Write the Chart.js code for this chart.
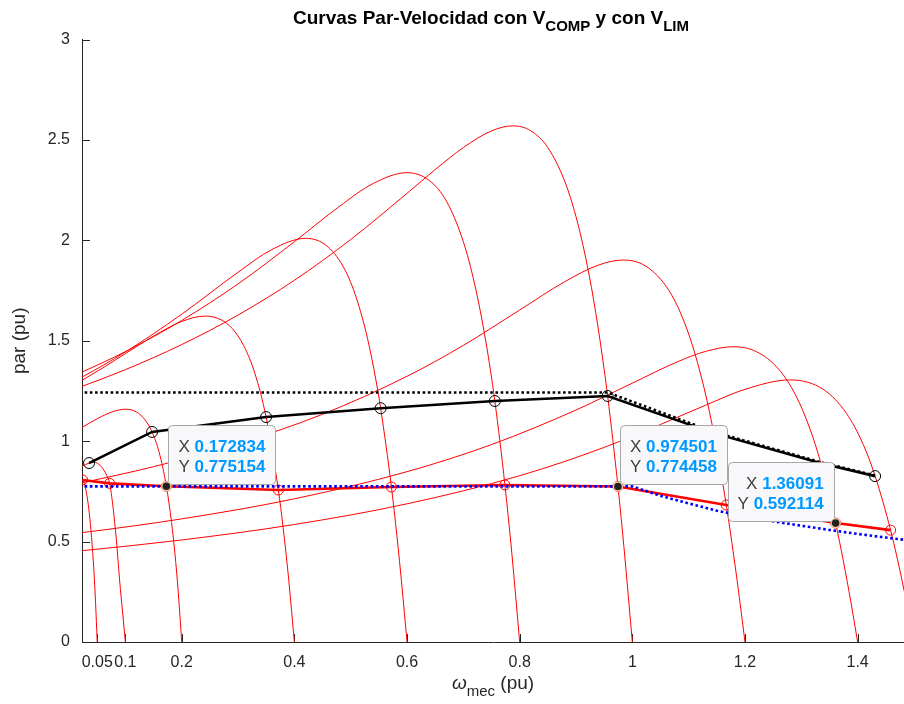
<!DOCTYPE html>
<html lang="es">
<head>
<meta charset="utf-8">
<title>Curvas Par-Velocidad</title>
<script src="https://cdn.jsdelivr.net/npm/chart.js@4.4.1/dist/chart.umd.min.js"></script>
<style>
  html, body { margin: 0; padding: 0; background: #fff; overflow: hidden; }
  canvas { display: block; }
</style>
</head>
<body>
<canvas id="grafico" width="904" height="704"></canvas>
<script>
// === EJES ===
const ticksX = [0.05, 0.1, 0.2, 0.4, 0.6, 0.8, 1, 1.2, 1.4];
const ticksY = [0, 0.5, 1, 1.5, 2, 2.5, 3];
const limX = [0.023, 1.4823];
const limY = [0, 3];

// === CURVAS PAR-VELOCIDAD [w_mec, par] ===
// V_COMP hasta 1 pu
const curva005 = [[0, 0.77], [0.012, 0.8], [0.02, 0.81], [0.024, 0.807], [0.028, 0.78], [0.032, 0.725], [0.036, 0.64], [0.04, 0.52], [0.044, 0.36], [0.047, 0.2], [0.05, 0]];
const curva01 = [[0, 0.845], [0.023, 0.875], [0.0355, 0.891], [0.045, 0.895], [0.055, 0.88], [0.062, 0.855], [0.067, 0.828], [0.072, 0.79], [0.078, 0.674], [0.084, 0.508], [0.09, 0.3], [0.095, 0.15], [0.1, 0]];
const curva02 = [[0, 1.029], [0.023, 1.068], [0.05, 1.112], [0.08, 1.149], [0.1, 1.159], [0.12, 1.145], [0.135, 1.106], [0.1474, 1.046], [0.16, 0.944], [0.172834, 0.775154], [0.182, 0.595], [0.188, 0.44], [0.194, 0.245], [0.2, 0]];
const curva04 = [[0, 1.265], [0.023, 1.303], [0.06, 1.365], [0.1, 1.436], [0.15, 1.523], [0.2, 1.596], [0.242, 1.623], [0.27, 1.604], [0.29, 1.56], [0.31, 1.476], [0.33, 1.337], [0.3498, 1.12], [0.3716, 0.757], [0.38, 0.571], [0.39, 0.31], [0.4, 0]];
const curva06 = [[0, 1.286], [0.023, 1.319], [0.1, 1.444], [0.2, 1.632], [0.3, 1.841], [0.36, 1.954], [0.42, 2.01], [0.46, 1.967], [0.49, 1.852], [0.51, 1.714], [0.53, 1.51], [0.545, 1.301], [0.5532, 1.164], [0.5723, 0.772], [0.582, 0.53], [0.591, 0.278], [0.6, 0]];
const curva08 = [[0, 1.316], [0.023, 1.344], [0.1, 1.446], [0.2, 1.601], [0.3, 1.783], [0.4, 1.993], [0.48, 2.169], [0.54, 2.283], [0.6, 2.337], [0.64, 2.297], [0.67, 2.195], [0.7, 1.993], [0.72, 1.783], [0.74, 1.495], [0.7559, 1.2], [0.7738, 0.782], [0.786, 0.444], [0.8, 0]];
const curva10 = [[0, 1.25], [0.023, 1.273], [0.1, 1.356], [0.2, 1.481], [0.3, 1.628], [0.4, 1.801], [0.5, 2.004], [0.6, 2.234], [0.65, 2.352], [0.7, 2.462], [0.75, 2.545], [0.788, 2.57], [0.82, 2.545], [0.85, 2.462], [0.88, 2.294], [0.9, 2.118], [0.92, 1.875], [0.935, 1.641], [0.95, 1.357], [0.9562, 1.225], [0.974501, 0.774458], [0.985, 0.476], [1, 0]];
// V_LIM por encima de 1 pu
const curva12 = [[0, 0.78], [0.023, 0.793], [0.15, 0.873], [0.3, 0.988], [0.45, 1.134], [0.6, 1.323], [0.7, 1.477], [0.8, 1.653], [0.88, 1.794], [0.94, 1.877], [0.984, 1.902], [1.03, 1.86], [1.07, 1.727], [1.1, 1.534], [1.125, 1.292], [1.1446, 1.04], [1.1668, 0.682], [1.18, 0.43], [1.19, 0.222], [1.2, 0]];
const curva14 = [[0, 0.537], [0.023, 0.5445], [0.2, 0.613], [0.4, 0.713], [0.6, 0.848], [0.75, 0.983], [0.9, 1.155], [1, 1.289], [1.08, 1.395], [1.13, 1.447], [1.179, 1.47], [1.22, 1.446], [1.26, 1.358], [1.29, 1.229], [1.315, 1.064], [1.3348, 0.89], [1.36091, 0.592114], [1.375, 0.398], [1.388, 0.199], [1.4, 0]];
const curva15 = [[0, 0.4485], [0.023, 0.4546], [0.2, 0.508], [0.4, 0.585], [0.6, 0.688], [0.8, 0.828], [0.95, 0.969], [1.05, 1.083], [1.13, 1.179], [1.2, 1.258], [1.28, 1.305], [1.34, 1.256], [1.38, 1.139], [1.41, 0.983], [1.431, 0.826], [1.4585, 0.557], [1.475, 0.357], [1.49, 0.15], [1.5, 0]];

// puntos marcados sobre las curvas
const puntosNegro = [[0.0355, 0.891], [0.1474, 1.046], [0.3498, 1.12], [0.5532, 1.164], [0.7559, 1.2], [0.9562, 1.225], [1.1446, 1.04], [1.3348, 0.89], [1.431, 0.826]];
const limiteNegro = [[0, 1.2425], [0.9562, 1.2425], [1.1446, 1.046], [1.3348, 0.895], [1.431, 0.829]];
const puntosRojo = [[0.024, 0.807], [0.072, 0.79], [0.172834, 0.775154], [0.3716, 0.757], [0.5723, 0.772], [0.7738, 0.782], [0.974501, 0.774458], [1.1668, 0.682], [1.36091, 0.592114], [1.4585, 0.557]];

// par de carga
const cargaW = [0, 1, 1.05, 1.1, 1.15, 1.2, 1.25, 1.3, 1.35, 1.4, 1.45, 1.5];
const cargaPar = [0.775, 0.775, 0.728, 0.69, 0.654, 0.625, 0.601, 0.579, 0.558, 0.538, 0.52, 0.503];

// data tips: [x, y, lado]
const tips = [[0.172834, 0.775154, 1], [0.974501, 0.774458, 1], [1.36091, 0.592114, -1]];

const fuente = '"Liberation Sans", Arial, Helvetica, sans-serif';
const grisTexto = '#262626';

const aXY = (lista) => lista.map(([x, y]) => ({ x, y }));

const curvas = [curva005, curva01, curva02, curva04, curva06, curva08, curva10, curva12, curva14, curva15];

// los dos puntos negros que quedan bajo los data tips no llevan marcador
const radioNegro = puntosNegro.map((p, i) => (i === 6 || i === 7) ? 0 : 5.5);

const datasets = [
  {
    data: cargaW.map((w, i) => ({ x: w, y: cargaPar[i] })),
    borderColor: '#0000ff', borderWidth: 2.6, borderDash: [2.6, 2.6], pointRadius: 0, order: 1
  },
  {
    data: aXY(puntosRojo),
    borderColor: '#ff0000', borderWidth: 2.6, pointRadius: 5, pointBorderWidth: 1,
    pointBorderColor: '#ff0000', pointBackgroundColor: 'rgba(0,0,0,0)', order: 2
  },
  {
    data: aXY(limiteNegro),
    borderColor: '#000000', borderWidth: 2.6, borderDash: [2.6, 2.6], pointRadius: 0, order: 3
  },
  {
    data: aXY(puntosNegro),
    borderColor: '#000000', borderWidth: 2.6, pointRadius: radioNegro, pointBorderWidth: 1,
    pointBorderColor: '#000000', pointBackgroundColor: 'rgba(0,0,0,0)', order: 4
  },
  ...curvas.map(c => ({
    data: aXY(c), borderColor: '#ff0000', borderWidth: 1, pointRadius: 0,
    cubicInterpolationMode: 'monotone', order: 10
  }))
];

// texto con subindices
function textoCompuesto(ctx, partes, cx, base, tam, negrita, color) {
  const f = (p) => `${p.cursiva ? 'italic ' : ''}${negrita ? 'bold ' : ''}${p.sub ? Math.round(tam * 0.78) : tam}px ${fuente}`;
  let ancho = 0;
  partes.forEach(p => { ctx.font = f(p); ancho += ctx.measureText(p.t).width; });
  let xx = cx - ancho / 2;
  ctx.fillStyle = color;
  ctx.textAlign = 'left';
  ctx.textBaseline = 'alphabetic';
  partes.forEach(p => {
    ctx.font = f(p);
    ctx.fillText(p.t, xx, base + (p.sub ? tam * 0.38 : 0));
    xx += ctx.measureText(p.t).width;
  });
}

const marcasEjes = {
  id: 'marcasEjes',
  beforeDatasetsDraw(chart) {
    const { ctx, chartArea: a, scales: { x, y } } = chart;
    ctx.save();
    ctx.strokeStyle = grisTexto;
    ctx.lineWidth = 1;
    ctx.beginPath();
    x.ticks.forEach(t => {
      const px = Math.round(x.getPixelForValue(t.value)) + 0.5;
      ctx.moveTo(px, a.bottom); ctx.lineTo(px, a.bottom - 8);
    });
    y.ticks.forEach(t => {
      const py = Math.round(y.getPixelForValue(t.value)) + 0.5;
      ctx.moveTo(a.left, py); ctx.lineTo(a.left + 8, py);
    });
    ctx.stroke();
    ctx.restore();
  }
};

const dataTips = {
  id: 'dataTips',
  afterDatasetsDraw(chart) {
    const { ctx, scales: { x, y } } = chart;
    ctx.save();
    tips.forEach(([vx, vy, lado]) => {
      const px = x.getPixelForValue(vx);
      const py = y.getPixelForValue(vy);
      const filas = [['X', String(vx)], ['Y', String(vy)]];
      const anchoFila = filas.map(([e, v]) => {
        ctx.font = `17px ${fuente}`;
        const a = ctx.measureText(e + ' ').width;
        ctx.font = `bold 17px ${fuente}`;
        return a + ctx.measureText(v).width;
      });
      const w = Math.max(...anchoFila) + 20;
      const h = 59;
      const bx = lado > 0 ? px + 2 : px - 2 - w;
      const by = py - 2 - h;

      ctx.beginPath();
      ctx.roundRect(Math.round(bx) + 0.5, Math.round(by) + 0.5, Math.round(w), h, 4);
      ctx.fillStyle = '#f8f8fb';
      ctx.fill();
      ctx.strokeStyle = '#a6a6a6';
      ctx.lineWidth = 1;
      ctx.stroke();

      ctx.textBaseline = 'alphabetic';
      ctx.textAlign = 'left';
      filas.forEach(([e, v], i) => {
        const base = by + 27 + i * 20;
        let tx = bx + w - 10 - anchoFila[i];
        ctx.font = `17px ${fuente}`;
        ctx.fillStyle = '#404040';
        ctx.fillText(e, tx, base);
        tx += ctx.measureText(e + ' ').width;
        ctx.font = `bold 17px ${fuente}`;
        ctx.fillStyle = '#0099ff';
        ctx.fillText(v, tx, base);
      });

      ctx.beginPath();
      ctx.arc(px, py, 5.2, 0, Math.PI * 2);
      ctx.fillStyle = '#f3cfa8';
      ctx.fill();
      ctx.beginPath();
      ctx.arc(px, py, 3.8, 0, Math.PI * 2);
      ctx.fillStyle = '#222222';
      ctx.fill();
    });
    ctx.restore();
  }
};

const rotulos = {
  id: 'rotulos',
  afterDraw(chart) {
    const { ctx, chartArea: a } = chart;
    const cx = (a.left + a.right) / 2;
    ctx.save();
    textoCompuesto(ctx, [
      { t: 'Curvas Par-Velocidad con V' }, { t: 'COMP', sub: true },
      { t: ' y con V' }, { t: 'LIM', sub: true }
    ], cx - 2, 24, 19, true, '#000000');
    textoCompuesto(ctx, [
      { t: 'ω', cursiva: true }, { t: 'mec', sub: true }, { t: ' (pu)' }
    ], cx, 689, 19, false, grisTexto);
    ctx.translate(25, (a.top + a.bottom) / 2);
    ctx.rotate(-Math.PI / 2);
    textoCompuesto(ctx, [{ t: 'par (pu)' }], 0, 0, 19, false, grisTexto);
    ctx.restore();
  }
};

new Chart(document.getElementById('grafico'), {
  type: 'line',
  data: { datasets },
  options: {
    responsive: false,
    animation: false,
    devicePixelRatio: 1,
    layout: { autoPadding: false, padding: { top: 39.5, left: 0, right: 0, bottom: 0 } },
    elements: { line: { capBezierPoints: false, borderCapStyle: 'butt' } },
    plugins: { legend: { display: false }, tooltip: { enabled: false }, title: { display: false } },
    scales: {
      x: {
        type: 'linear', min: limX[0], max: limX[1],
        afterBuildTicks: (s) => { s.ticks = ticksX.map(v => ({ value: v })); },
        afterFit: (s) => { s.height = 62; },
        grid: { display: false, drawTicks: false },
        border: { display: true, color: grisTexto, width: 1 },
        ticks: {
          autoSkip: false, maxRotation: 0, minRotation: 0, padding: 11,
          color: grisTexto, font: { family: fuente, size: 16 },
          callback: (v) => String(v)
        }
      },
      y: {
        type: 'linear', min: limY[0], max: limY[1],
        afterBuildTicks: (s) => { s.ticks = ticksY.map(v => ({ value: v })); },
        afterFit: (s) => { s.width = 82; },
        grid: { display: false, drawTicks: false },
        border: { display: true, color: grisTexto, width: 1 },
        ticks: {
          padding: 12, color: grisTexto, font: { family: fuente, size: 16 },
          callback: (v) => String(v)
        }
      }
    }
  },
  plugins: [marcasEjes, dataTips, rotulos]
});
</script>
</body>
</html>
